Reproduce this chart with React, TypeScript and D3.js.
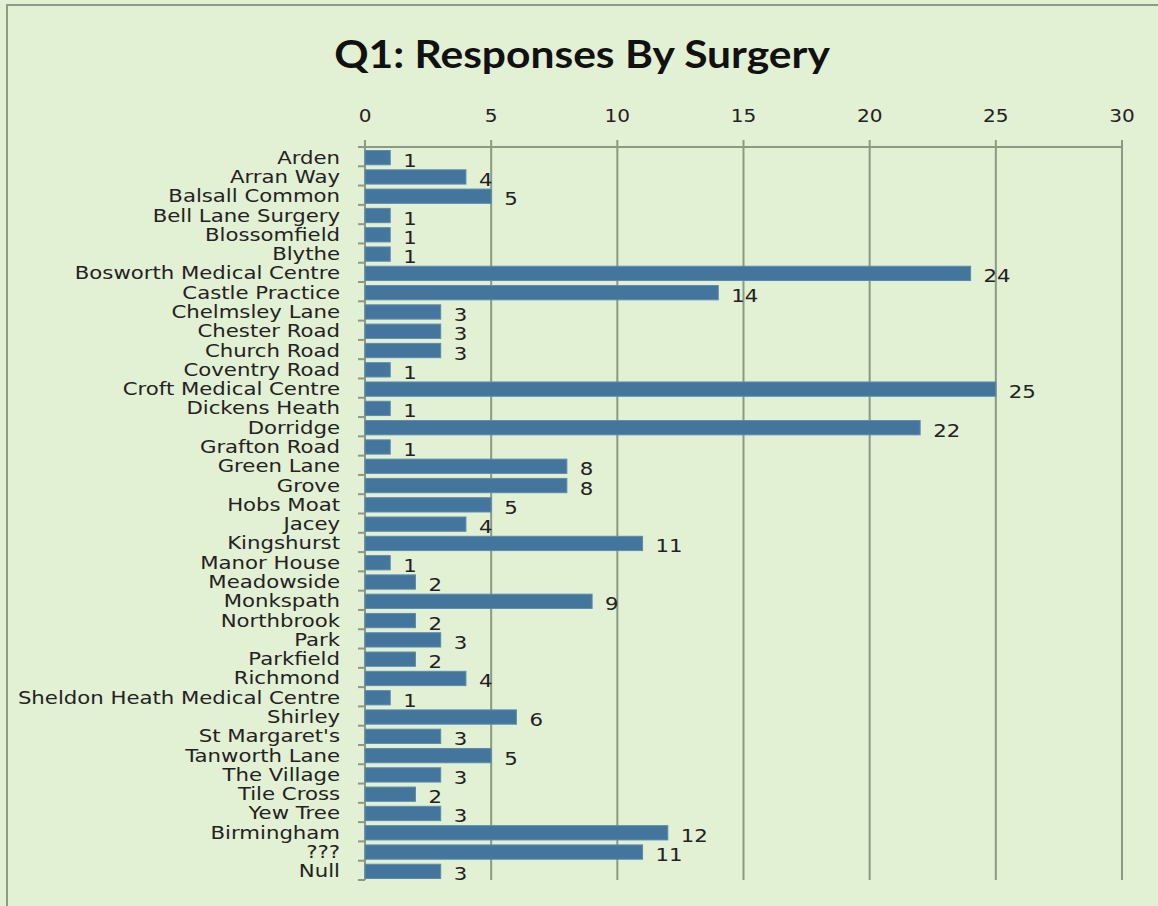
import React, { useEffect, useRef } from 'react'
import * as d3 from 'd3'

const surgeries = [
    "Arden", "Arran Way", "Balsall Common", "Bell Lane Surgery", "Blossomfield", "Blythe",
    "Bosworth Medical Centre", "Castle Practice", "Chelmsley Lane", "Chester Road", "Church Road",
    "Coventry Road", "Croft Medical Centre", "Dickens Heath", "Dorridge", "Grafton Road",
    "Green Lane", "Grove", "Hobs Moat", "Jacey", "Kingshurst", "Manor House", "Meadowside",
    "Monkspath", "Northbrook", "Park", "Parkfield", "Richmond", "Sheldon Heath Medical Centre",
    "Shirley", "St Margaret's", "Tanworth Lane", "The Village", "Tile Cross", "Yew Tree",
    "Birmingham", "???", "Null"
]
const responses = [
    1, 4, 5, 1, 1, 1,
    24, 14, 3, 3, 3,
    1, 25, 1, 22, 1,
    8, 8, 5, 4, 11, 1, 2,
    9, 2, 3, 2, 4, 1,
    6, 3, 5, 3, 2, 3,
    12, 11, 3
]
const xTicks = [0, 5, 10, 15, 20, 25, 30]
const chartTitle = "Q1: Responses By Surgery"

const W = 1158
const H = 906
const gridColor = "#8b9985"
const barColor = "#44759d"
const labelFont = "'DejaVu Sans', sans-serif"
const stretch = 1.18 // the source text is a bit wide

function drawChart(svgEl: SVGSVGElement) {
    const svg = d3.select(svgEl)
    svg.selectAll("*").remove()

    const margin = { top: 147, right: 36, bottom: 26, left: 365 }

    svg.append("rect")
        .attr("width", W).attr("height", H)
        .attr("fill", "#e2f0d3")
    svg.append("rect")
        .attr("x", 7).attr("y", 5)
        .attr("width", W + 50).attr("height", H + 50)
        .attr("fill", "none")
        .attr("stroke", "#8f9c88")
        .attr("stroke-width", 2)

    svg.append("text")
        .attr("transform", "translate(582,68) scale(1.12,1)")
        .attr("text-anchor", "middle")
        .style("font-family", "Lato, 'Open Sans', sans-serif")
        .style("font-weight", "bold")
        .style("font-size", "38px")
        .attr("fill", "#111")
        .text(chartTitle)

    const x = d3.scaleLinear().domain([0, 30]).range([margin.left, W - margin.right])
    const y = d3.scaleBand().domain(surgeries).range([margin.top, H - margin.bottom]).paddingInner(0.26).paddingOuter(0.13)

    const g = svg.append("g")

    // vertical gridlines + top ticks
    g.selectAll("line.grid").data(xTicks.slice(1)).join("line")
        .attr("class", "grid")
        .attr("x1", d => x(d)).attr("x2", d => x(d))
        .attr("y1", margin.top - 7).attr("y2", H - margin.bottom)
        .attr("stroke", gridColor).attr("stroke-width", 2)

    // top axis line
    g.append("line")
        .attr("x1", x(0)).attr("x2", x(30))
        .attr("y1", margin.top).attr("y2", margin.top)
        .attr("stroke", gridColor).attr("stroke-width", 2)
    g.append("line")
        .attr("x1", x(0)).attr("x2", x(0))
        .attr("y1", margin.top - 7).attr("y2", H - margin.bottom)
        .attr("stroke", gridColor).attr("stroke-width", 2)

    g.selectAll("text.xtick").data(xTicks).join("text")
        .attr("class", "xtick")
        .attr("transform", d => "translate(" + x(d) + ",122) scale(" + stretch + ",1)")
        .attr("text-anchor", "middle")
        .style("font-family", labelFont)
        .style("font-size", "17px")
        .attr("fill", "#222")
        .text(d => d)

    // category ticks on the left axis
    const step = y.step()
    g.selectAll("line.ytick").data(d3.range(surgeries.length + 1)).join("line")
        .attr("class", "ytick")
        .attr("x1", x(0) - 7).attr("x2", x(0))
        .attr("y1", i => margin.top + i * step).attr("y2", i => margin.top + i * step)
        .attr("stroke", gridColor).attr("stroke-width", 2)

    g.selectAll("rect.bar").data(responses).join("rect")
        .attr("class", "bar")
        .attr("x", x(0))
        .attr("y", (d, i) => (y(surgeries[i]) as number) + 1)
        .attr("width", d => x(d) - x(0))
        .attr("height", y.bandwidth())
        .attr("fill", barColor)
        .attr("stroke", "#5d8bb0")
        .attr("stroke-width", 1)

    g.selectAll("text.ylabel").data(surgeries).join("text")
        .attr("class", "ylabel")
        .attr("transform", d => "translate(340," + ((y(d) as number) + y.bandwidth() / 2 + 7) + ") scale(" + stretch + ",1)")
        .attr("text-anchor", "end")
        .style("font-family", labelFont)
        .style("font-size", "18px")
        .attr("fill", "#222")
        .text(d => d)

    g.selectAll("text.value").data(responses).join("text")
        .attr("class", "value")
        .attr("transform", (d, i) => "translate(" + (x(d) + 13) + "," + ((y(surgeries[i]) as number) + y.bandwidth() / 2 + 10) + ") scale(" + stretch + ",1)")
        .style("font-family", labelFont)
        .style("font-size", "18px")
        .attr("fill", "#222")
        .text(d => d)
}

export default function App() {
    const ref = useRef<SVGSVGElement>(null)
    useEffect(() => {
        document.body.style.margin = "0"
        if (ref.current) drawChart(ref.current)
    }, [])
    return (
        <div className="BarChart">
            <svg ref={ref} width={W} height={H} style={{ display: "block" }}></svg>
        </div>
    )
}
